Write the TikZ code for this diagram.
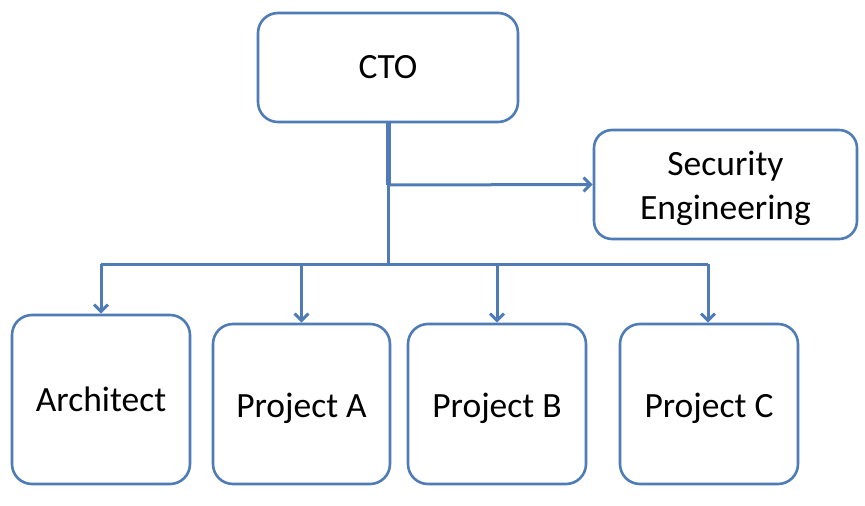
\documentclass[tikz,border=0pt]{standalone}
\usepackage{fontspec}
\setmainfont{Carlito}
\usetikzlibrary{arrows.meta}
\definecolor{linec}{RGB}{79,124,182}
\begin{document}
\begin{tikzpicture}[x=1pt,y=-1pt,
  box/.style={draw=linec, line width=2.6pt, rounded corners=20pt, fill=white,
    inner sep=0pt, align=center, font=\fontsize{35.5}{44}\selectfont},
  lower/.style={yshift=0pt, label={[font=\fontsize{35.5}{44}\selectfont, align=center]center:{#1}}},
  conn/.style={draw=linec, line width=3pt},
  tip/.style={conn, -{Straight Barb[length=7pt,width=14pt,line width=3pt]}}]
\useasboundingbox (0,0) rectangle (865,506);
\node[box, minimum width=260pt, minimum height=109pt] (cto) at (388,67.5) {CTO};
\node[box, minimum width=263pt, minimum height=109pt, rounded corners=18pt] (sec) at (725.5,184.5) {\rule{0pt}{0pt}};
\node[align=center, font=\fontsize{35.5}{44}\selectfont, inner sep=0pt] (sect) at ([yshift=-4pt]sec.center) {Security\\Engineering};
\node[box, minimum width=178pt, minimum height=169pt] (arch) at (101,399.5) {Architect};
\node[box, minimum width=177pt, minimum height=160pt] (pa) at (301.5,404) {};
\node[box, minimum width=178pt, minimum height=160pt] (pb) at (497,404) {};
\node[box, minimum width=178pt, minimum height=160pt] (pc) at (709,404) {};
\node[font=\fontsize{35.5}{44}\selectfont, inner sep=0pt] (pat) at ([yshift=-4pt]pa.center) {Project A};
\node[font=\fontsize{35.5}{44}\selectfont, inner sep=0pt] (pbt) at ([yshift=-4pt]pb.center) {Project B};
\node[font=\fontsize{35.5}{44}\selectfont, inner sep=0pt] (pct) at ([yshift=-4pt]pc.center) {Project C};
\coordinate (j1) at (388,185);
\coordinate (j2) at (388,264);
\coordinate (bl) at (101,264);
\coordinate (br) at (708,264);
\draw[conn, line width=5pt] (cto.south) -- (j1);
\draw[conn] (j1) -- (j2);
\draw[tip] (j1) -- (sec.west);
\draw[conn] (bl) -- (br);
\draw[tip] (bl) -- (arch.north);
\draw[tip] (j2 -| pa.north) -- (pa.north);
\draw[tip] (j2 -| pb.north) -- (pb.north);
\draw[tip] (br) -- (br |- pc.north);
\end{tikzpicture}
\end{document}
